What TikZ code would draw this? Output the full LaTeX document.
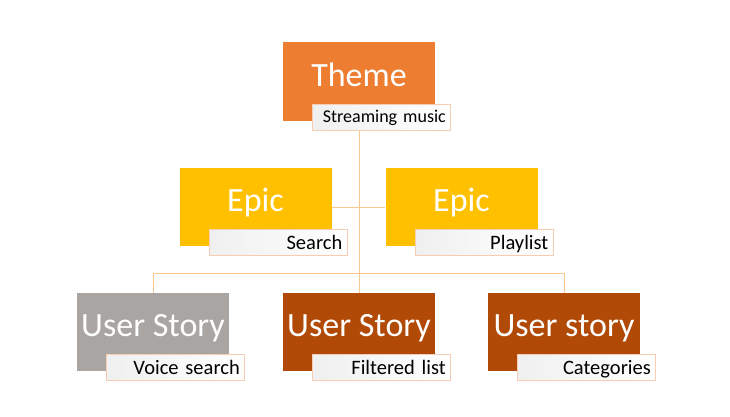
\documentclass[tikz,border=0pt]{standalone}
\usepackage{fontspec}
\setmainfont{Carlito}
\usepackage{tikz}
\usetikzlibrary{positioning,backgrounds}
\usepackage{xcolor}
\definecolor{dforange}{RGB}{237,125,49}
\definecolor{dfgold}{RGB}{255,192,0}
\definecolor{dfgrey}{RGB}{168,165,162}
\definecolor{dfbrown}{RGB}{176,74,6}
\definecolor{dfline}{RGB}{250,200,140}
\definecolor{dfpeach}{RGB}{245,205,180}
\tikzstyle{topicbox} = [rectangle, minimum width=152pt, minimum height=78pt, inner sep=0pt, text=white, font=\fontsize{34}{40}\selectfont, text height=21pt, text depth=12pt]
\tikzstyle{tagbox} = [rectangle, draw=dfpeach, line width=0.8pt, left color=black!6, right color=white, text=black, text width=128pt, align=right, inner xsep=5pt, inner ysep=0pt, minimum height=26pt, font=\fontsize{20.5}{24}\selectfont, text height=13pt, text depth=0pt, anchor=north east]
\tikzstyle{link} = [line width=1pt, color=dfline]

\begin{document}
\begin{tikzpicture}[x=1pt,y=1pt]
\useasboundingbox (0,0) rectangle (730,416);

% Theme
\node[topicbox, fill=dforange] (theme) at (359,334.5) {Theme};
\node[tagbox, font=\fontsize{18}{21}\selectfont, text height=11.5pt] (themetag) at ([shift={(16,17)}]theme.south east) {Streaming music};

% Epics
\node[topicbox, fill=dfgold] (epicsearch) at (255.5,209) {Epic};
\node[tagbox] (searchtag) at ([shift={(16,17)}]epicsearch.south east) {Search};
\node[topicbox, fill=dfgold] (epicplay) at (461.5,209) {Epic};
\node[tagbox] (playtag) at ([shift={(16,17)}]epicplay.south east) {Playlist};

% User stories
\node[topicbox, fill=dfgrey] (storyvoice) at (153,84) {User Story};
\node[tagbox] (voicetag) at ([shift={(16,17)}]storyvoice.south east) {Voice search};
\node[topicbox, fill=dfbrown] (storyfilter) at (359,84) {User Story};
\node[tagbox] (filtertag) at ([shift={(16,17)}]storyfilter.south east) {Filtered list};
\node[topicbox, fill=dfbrown] (storycat) at (564,84) {User story};
\node[tagbox] (cattag) at ([shift={(16,17)}]storycat.south east) {Categories};

% Links
\begin{scope}[on background layer]
\draw[link] (theme.south) -- (storyfilter.north);
\draw[link] (epicsearch.east) -- (epicplay.west);
\draw[link] (storyvoice.north) -- ++(0,19) -| (storycat.north);
\end{scope}
\end{tikzpicture}
\end{document}
